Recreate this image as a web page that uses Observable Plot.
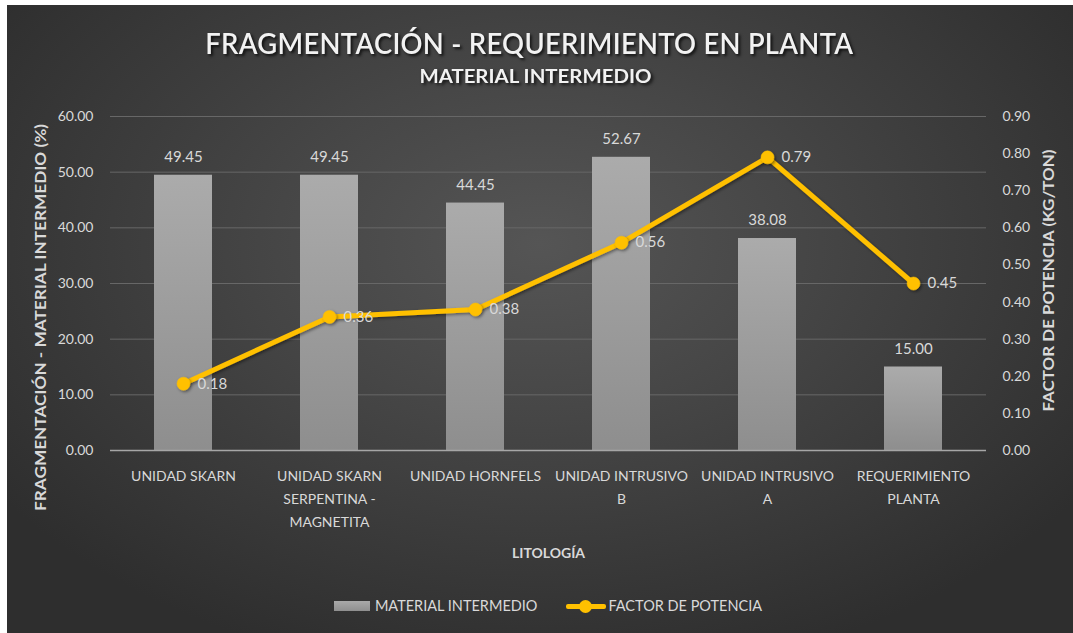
<!DOCTYPE html>
<html>
<head>
<meta charset="utf-8">
<script src="https://cdn.jsdelivr.net/npm/d3@7"></script>
<script src="https://cdn.jsdelivr.net/npm/@observablehq/plot@0.6"></script>
<style>
  html, body { margin: 0; padding: 0; background: #ffffff; }
  #chart {
    position: absolute; left: 7px; top: 5px; width: 1066px; height: 628px;
    background: radial-gradient(ellipse 62% 70% at 50% 38%, #555555 0%, #464646 40%, #2e2e2e 100%);
    overflow: hidden; font-family: Lato, "Open Sans", sans-serif;
  }
  .head { position: absolute; text-align: center; white-space: nowrap; color: #f2f2f2;
    text-shadow: 2px 2px 3px rgba(0,0,0,0.75); }
  .head span { display: inline-block; transform-origin: 50% 50%; }
  #title { left: -11px; width: 100%; top: 20px; font-size: 29px; font-weight: 600; letter-spacing: 0.3px; }
  #subtitle { left: -5px; width: 100%; top: 60px; font-size: 18px; font-weight: 700; }
  #plot { position: absolute; left: 0; top: 90px; }
  #legend {
    position: absolute; left: 8px; width: 100%; top: 592px; display: flex; justify-content: center;
    align-items: center; font-size: 14.5px; color: #d9d9d9; white-space: nowrap;
  }
  .sw-bar { display: inline-block; width: 36px; height: 10px; background: linear-gradient(#a9a9a9, #8f8f8f); margin-right: 5px; }
  .sw-line { display: inline-block; position: relative; width: 40px; height: 14px; margin-left: 29px; margin-right: 2px; }
  .sw-line::before { content: ""; position: absolute; left: 0; right: 0; top: 5px; height: 5px; background: #FFC000; border-radius: 2px; }
  .sw-line::after { content: ""; position: absolute; left: 13px; top: 1px; width: 13px; height: 13px; border-radius: 50%; background: #FFC000; }
</style>
</head>
<body>
<div id="chart">
  <div id="title" class="head"><span>FRAGMENTACIÓN - REQUERIMIENTO EN PLANTA</span></div>
  <div id="subtitle" class="head"><span>MATERIAL INTERMEDIO</span></div>
  <div id="plot"></div>
  <div id="legend"><span class="sw-bar"></span><span>MATERIAL INTERMEDIO</span><span class="sw-line"></span><span>FACTOR DE POTENCIA</span></div>
</div>
<script>
const categories = ["UNIDAD SKARN", "UNIDAD SKARN SERPENTINA - MAGNETITA", "UNIDAD HORNFELS", "UNIDAD INTRUSIVO B", "UNIDAD INTRUSIVO A", "REQUERIMIENTO PLANTA"];
const categoryLabels = ["UNIDAD SKARN", "UNIDAD SKARN\nSERPENTINA -\nMAGNETITA", "UNIDAD HORNFELS", "UNIDAD INTRUSIVO\nB", "UNIDAD INTRUSIVO\nA", "REQUERIMIENTO\nPLANTA"];
const materialIntermedio = [49.45, 49.45, 44.45, 52.67, 38.08, 15.00];
const factorPotencia = [0.18, 0.36, 0.38, 0.56, 0.79, 0.45];
const leftTicks = [0, 10, 20, 30, 40, 50, 60];
const rightTicks = [0, 0.1, 0.2, 0.3, 0.4, 0.5, 0.6, 0.7, 0.8, 0.9];
const leftMax = 60, rightMax = 0.9;
const k = leftMax / rightMax;

function fitWidth(span, target) {
  const w = span.getBoundingClientRect().width;
  span.style.transform = `scaleX(${target / w})`;
}
fitWidth(document.querySelector("#title span"), 648);
fitWidth(document.querySelector("#subtitle span"), 232);

const bars = categories.map((c, i) => ({cat: c, v: materialIntermedio[i]}));
const pts = categories.map((c, i) => ({cat: c, f: factorPotencia[i], y: factorPotencia[i] * k}));
const labelOf = new Map(categories.map((c, i) => [c, categoryLabels[i]]));

const defs = () => {
  const ns = "http://www.w3.org/2000/svg";
  const d = document.createElementNS(ns, "defs");
  d.innerHTML = `<linearGradient id="barGrad" x1="0" y1="0" x2="0" y2="1">
      <stop offset="0" stop-color="#ababab"/><stop offset="1" stop-color="#8e8e8e"/></linearGradient>
    <filter id="shadow" x="-20%" y="-20%" width="140%" height="140%">
      <feDropShadow dx="1.5" dy="1.5" stdDeviation="1.5" flood-color="#000" flood-opacity="0.45"/></filter>`;
  return d;
};

const chart = Plot.plot({
  width: 1066,
  height: 480,
  marginTop: 21,
  marginBottom: 125,
  marginLeft: 103,
  marginRight: 87,
  style: {background: "transparent", color: "#d9d9d9", fontFamily: "Lato, 'Open Sans', sans-serif", fontSize: "14px", overflow: "visible"},
  x: {domain: categories, paddingInner: 0.6, paddingOuter: 0.3, axis: null},
  y: {domain: [0, leftMax], axis: null},
  marks: [
    defs,
    Plot.gridY(leftTicks, {stroke: "#676767", strokeOpacity: 1, strokeWidth: 1}),
    Plot.barY(bars, {x: "cat", y: "v", fill: "url(#barGrad)"}),
    Plot.ruleY([0], {stroke: "#a6a6a6", strokeWidth: 1.6}),
    Plot.text(bars, {x: "cat", y: "v", text: d => d.v.toFixed(2), dy: -18, fill: "#d9d9d9", fontSize: 15}),
    Plot.line(pts, {x: "cat", y: "y", stroke: "#FFC000", strokeWidth: 5, strokeLinejoin: "round", className: "factor-line"}),
    Plot.dot(pts, {x: "cat", y: "y", r: 6.5, fill: "#FFC000", stroke: "#FFC000", strokeWidth: 0.5, className: "factor-dots"}),
    Plot.text(pts, {x: "cat", y: "y", text: d => d.f.toFixed(2), dx: 14, textAnchor: "start", fill: "#d9d9d9", fontSize: 15}),
    Plot.axisY({anchor: "left", ticks: leftTicks, tickFormat: d => d.toFixed(2), tickSize: 0, tickPadding: 17, label: null, fontSize: 14, fill: "#d9d9d9"}),
    Plot.axisY({anchor: "right", ticks: rightTicks.map(v => v * k), tickFormat: d => (d / k).toFixed(2), tickSize: 0, tickPadding: 16, label: null, fontSize: 14, fill: "#d9d9d9"}),
    Plot.axisX({ticks: categories, tickFormat: d => labelOf.get(d), tickSize: 0, tickPadding: 14, fontSize: 14, lineHeight: 1.65, label: null, fill: "#d9d9d9"}),
    Plot.text(["LITOLOGÍA"], {frameAnchor: "bottom", dy: 107, fontWeight: "bold", fontSize: 14, fill: "#d9d9d9"}),
    Plot.text(["FRAGMENTACIÓN - MATERIAL INTERMEDIO (%)"], {frameAnchor: "left", textAnchor: "middle", dx: -69, dy: 34, rotate: -90, fontWeight: "bold", fontSize: 15, fill: "#d9d9d9", className: "ytitle-left"}),
    Plot.text(["FACTOR DE POTENCIA (KG/TON)"], {frameAnchor: "right", textAnchor: "middle", dx: 63, dy: -3, rotate: -90, fontWeight: "bold", fontSize: 15, fill: "#d9d9d9", className: "ytitle-right"})
  ]
});
document.getElementById("plot").appendChild(chart);
d3.select(chart).selectAll(".factor-line, .factor-dots").attr("filter", "url(#shadow)");
d3.select(chart).select(".ytitle-left text").attr("textLength", 387).attr("lengthAdjust", "spacingAndGlyphs");
d3.select(chart).select(".ytitle-right text").attr("textLength", 262).attr("lengthAdjust", "spacingAndGlyphs");
</script>
</body>
</html>
